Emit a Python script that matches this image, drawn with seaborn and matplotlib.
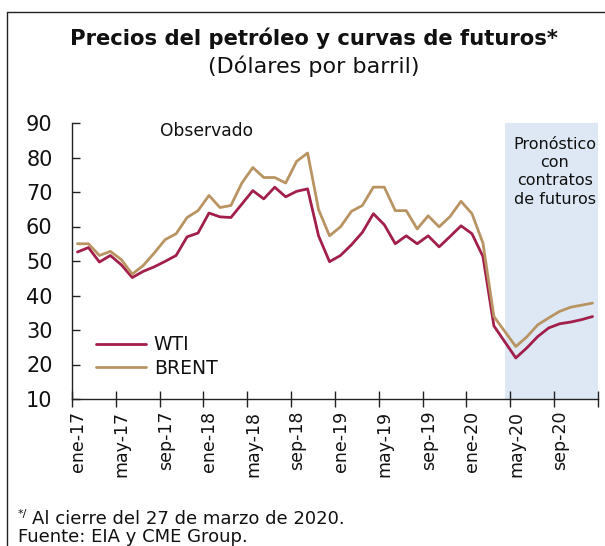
import numpy as np
import pandas as pd
import seaborn as sns
import matplotlib
matplotlib.use("Agg")
import matplotlib.pyplot as plt
import matplotlib.transforms as mtransforms
from matplotlib.lines import Line2D

# ---------------- data ----------------
months = ["ene-17", "feb-17", "mar-17", "abr-17", "may-17", "jun-17", "jul-17", "ago-17",
          "sep-17", "oct-17", "nov-17", "dic-17",
          "ene-18", "feb-18", "mar-18", "abr-18", "may-18", "jun-18", "jul-18", "ago-18",
          "sep-18", "oct-18", "nov-18", "dic-18",
          "ene-19", "feb-19", "mar-19", "abr-19", "may-19", "jun-19", "jul-19", "ago-19",
          "sep-19", "oct-19", "nov-19", "dic-19",
          "ene-20", "feb-20", "mar-20", "abr-20", "may-20", "jun-20", "jul-20", "ago-20",
          "sep-20", "oct-20", "nov-20", "dic-20"]

wti = [52.6, 53.9, 49.7, 51.6, 48.9, 45.2, 47.0, 48.3, 49.9, 51.6, 57.0, 58.1,
       63.9, 62.8, 62.6, 66.5, 70.4, 68.0, 71.4, 68.6, 70.2, 70.9, 57.3, 49.8,
       51.6, 54.7, 58.3, 63.7, 60.5, 55.0, 57.3, 55.0, 57.3, 54.1, 57.1, 60.2,
       57.9, 51.3, 31.2, None, 21.9, 24.8, 28.1, 30.6, 31.8, 32.3, 33.0, 33.9]

brent = [55.0, 55.0, 51.6, 52.8, 50.4, 46.2, 48.7, 52.3, 56.2, 57.9, 62.6, 64.6,
         69.0, 65.5, 66.1, 72.6, 77.1, 74.2, 74.2, 72.6, 78.9, 81.3, 64.9, 57.3,
         59.9, 64.4, 66.1, 71.4, 71.4, 64.6, 64.6, 59.3, 63.1, 59.9, 62.9, 67.3,
         63.7, 55.2, 33.9, None, 25.2, 28.0, 31.5, 33.5, 35.4, 36.6, 37.2, 37.8]

series_names = ["WTI", "BRENT"]
tick_labels = ["ene-17", "may-17", "sep-17", "ene-18", "may-18", "sep-18", "ene-19",
               "may-19", "sep-19", "ene-20", "may-20", "sep-20"]
forecast_start = "may-20"

# ---------------- table ----------------
rows = []
for i, m in enumerate(months):
    for name, vals in zip(series_names, [wti, brent]):
        rows.append({"pos": i + 0.5, "mes": m, "serie": name, "valor": vals[i]})
df = pd.DataFrame(rows).dropna()

colors = {"WTI": "#a21f4b", "BRENT": "#b99463"}
ink = "#111111"

# ---------------- figure ----------------
sns.set_theme(style="white")
plt.rcParams["font.family"] = ["DejaVu Sans"]

fig = plt.figure(figsize=(6.05, 5.46), dpi=100)
ax = fig.add_axes([72 / 605, 1 - 399 / 546, 526 / 605, 276 / 546])

# forecast shading
fs = months.index(forecast_start) - 0.5
ax.axvspan(fs, len(months), color="#dde8f4", zorder=0, lw=0)

sns.lineplot(data=df, x="pos", y="valor", hue="serie", palette=colors,
             hue_order=series_names, estimator=None, sort=True,
             linewidth=2.0, ax=ax, legend=False)

ax.set_xlim(0, len(months))
ax.set_ylim(10, 90)
ax.set_yticks(np.arange(10, 91, 10))
tick_pos = [months.index(t) for t in tick_labels] + [len(months)]
ax.set_xticks(tick_pos)
ax.set_xticklabels(tick_labels + [""], rotation=90)
ax.set_xlabel("")
ax.set_ylabel("")

for s in ["top", "right"]:
    ax.spines[s].set_visible(False)
for s in ["left", "bottom"]:
    ax.spines[s].set_color("#222222")
    ax.spines[s].set_linewidth(1.0)

ax.tick_params(axis="y", direction="in", length=6, width=1.0, color="#222222",
               labelsize=15, pad=14, left=True, labelcolor=ink)
ax.tick_params(axis="x", direction="inout", length=11, width=1.0, color="#222222",
               labelsize=12.5, pad=3, bottom=True, labelcolor=ink)

offset = mtransforms.ScaledTranslation(6 / 100, 0, fig.dpi_scale_trans)
for lab in ax.get_xticklabels():
    lab.set_transform(lab.get_transform() + offset)

# legend
handles = [Line2D([], [], color=colors[n], lw=2.0) for n in series_names]
ax.legend(handles, series_names, loc="center left", bbox_to_anchor=(0.045, 0.154),
          frameon=False, fontsize=13.5, handlelength=2.7, handletextpad=0.4,
          labelspacing=0.25, borderpad=0, borderaxespad=0, labelcolor=ink)

ax.text(0.255, 0.972, "Observado", transform=ax.transAxes, ha="center", va="center",
        fontsize=12.3, color=ink)
ax.text(0.918, 0.824, "Pronóstico\ncon\ncontratos\nde futuros", transform=ax.transAxes,
        ha="center", va="center", fontsize=11.5, linespacing=1.28, color=ink)

# titles
fig.text(314 / 605, 1 - 38 / 546, "Precios del petróleo y curvas de futuros*",
         ha="center", va="center", fontsize=15.2, fontweight="bold", color=ink)
fig.text(314 / 605, 1 - 66 / 546, "(Dólares por barril)", ha="center", va="center",
         fontsize=16, color=ink)

# footnotes
fig.text(18 / 605, 1 - 514 / 546, "*/", ha="left", va="center", fontsize=8, color=ink)
fig.text(32 / 605, 1 - 519 / 546, "Al cierre del 27 de marzo de 2020.", ha="left",
         va="center", fontsize=13, color=ink)
fig.text(18 / 605, 1 - 537 / 546, "Fuente: EIA y CME Group.", ha="left",
         va="center", fontsize=13, color=ink)

# frame lines
fig.add_artist(Line2D([7 / 605, 7 / 605], [0, 1 - 12 / 546], transform=fig.transFigure,
                      color="#222222", lw=1.0))
fig.add_artist(Line2D([7 / 605, 1], [1 - 12 / 546, 1 - 12 / 546], transform=fig.transFigure,
                      color="#222222", lw=1.0))

fig.savefig("out.png", dpi=100)
